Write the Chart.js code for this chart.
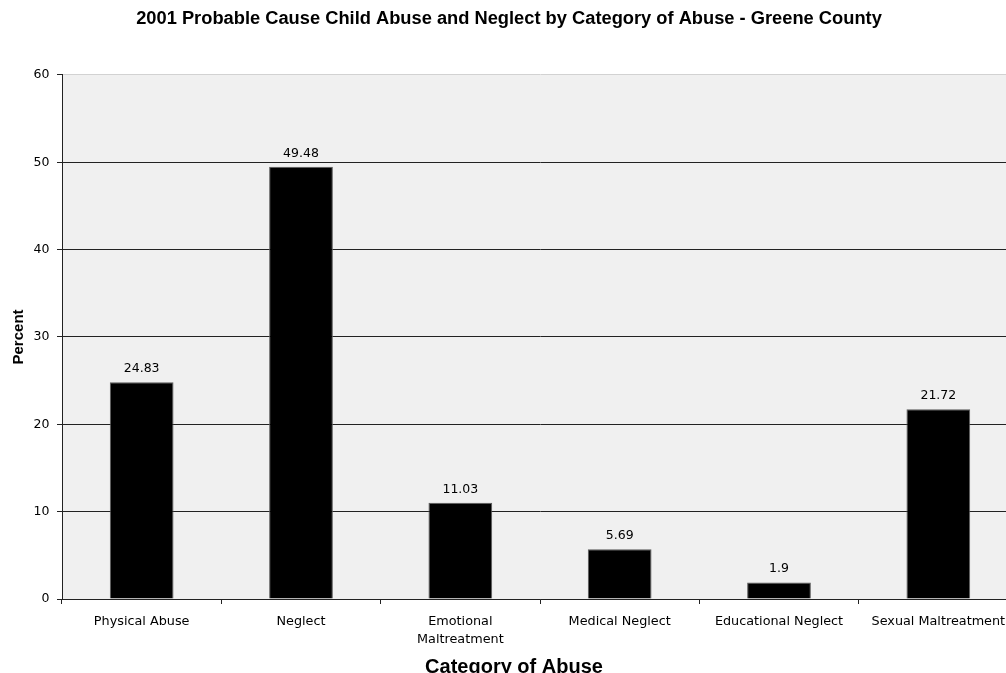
<!DOCTYPE html>
<html>
<head>
<meta charset="utf-8">
<script src="https://cdn.jsdelivr.net/npm/chart.js@4"></script>
<style>
  html, body { margin: 0; padding: 0; background: #fff; overflow: hidden; }
  #wrap { width: 1018px; height: 673px; }
</style>
</head>
<body>
<div id="wrap"><canvas id="myChart" width="1018" height="673"></canvas></div>
<script>
// chart data
let categories = ["Physical Abuse", "Neglect", ["Emotional", "Maltreatment"], "Medical Neglect", "Educational Neglect", "Sexual Maltreatment"];
let percents = [24.83, 49.48, 11.03, 5.69, 1.9, 21.72];
let yMin = 0, yMax = 60, yStep = 10;

let chartTitle = "2001 Probable Cause Child Abuse and Neglect by Category of Abuse - Greene County";
let xTitle = "Category of Abuse";
let yTitle = "Percent";

Chart.defaults.font.family = "'DejaVu Sans', sans-serif";
Chart.defaults.color = "#000";

// grey plot area like the excel chart
let plotBg = {
	id: "plotBg",
	beforeDraw: function(chart) {
		let a = chart.chartArea
		let ctx = chart.ctx
		ctx.save()
		ctx.fillStyle = "#f0f0f0"
		ctx.fillRect(a.left, a.top, a.right - a.left, a.bottom - a.top)
		ctx.restore()
	}
}

// values above the bars
let barValues = {
	id: "barValues",
	afterDatasetsDraw: function(chart) {
		let ctx = chart.ctx
		let meta = chart.getDatasetMeta(0)
		ctx.save()
		ctx.font = "12.5px 'DejaVu Sans'"
		ctx.fillStyle = "#000"
		ctx.textAlign = "center"
		ctx.textBaseline = "alphabetic"
		meta.data.forEach(function(bar, i) {
			ctx.fillText(String(percents[i]), bar.x, bar.y - 10)
		})
		ctx.restore()
	}
}

// x axis title sits a bit left of the plot centre in the original
let xAxisTitle = {
	id: "xAxisTitle",
	afterDraw: function(chart) {
		let ctx = chart.ctx
		ctx.save()
		ctx.font = "bold 20px 'Liberation Sans', Arial, sans-serif"
		ctx.fillStyle = "#000"
		ctx.textAlign = "center"
		ctx.textBaseline = "middle"
		ctx.fillText(xTitle, 514, 667)
		ctx.restore()
	}
}

new Chart("myChart", {
	type: "bar",
	data: {
		labels: categories,
		datasets: [
			{
				data: percents,
				backgroundColor: "#000",
				borderColor: "#5a5a5a",
				borderWidth: 1,
				barPercentage: 0.4,
				categoryPercentage: 1.0,
			},
		],
	},
	options: {
		responsive: false,
		animation: false,
		layout: { padding: 0 },
		plugins: {
			legend: { display: false },
			tooltip: { enabled: false },
			title: {
				display: true,
				text: chartTitle,
				color: "#000",
				font: { family: "'Liberation Sans', Arial, sans-serif", size: 18.3, weight: "bold" },
				padding: { top: 8, bottom: 45 },
			},
		},
		scales: {
			x: {
				afterFit: function(scale) { scale.height = 74 },
				grid: {
					offset: true,
					drawOnChartArea: false,
					tickLength: 5,
					tickColor: "#222",
				},
				border: { color: "#222", width: 1 },
				ticks: {
					maxRotation: 0,
					autoSkip: false,
					padding: 8,
					color: "#000",
					font: { size: 12.8, lineHeight: 1.45 },
				},
			},
			y: {
				min: yMin,
				max: yMax,
				afterFit: function(scale) { scale.width = 62 },
				grid: {
					color: function(c) { return c.tick && c.tick.value === yMax ? "#d2d2d2" : "#222" },
					tickColor: "#222",
					tickLength: 5,
				},
				border: { color: "#222", width: 1 },
				ticks: {
					stepSize: yStep,
					padding: 7.5,
					color: "#000",
					font: { size: 12.5 },
				},
				title: {
					display: true,
					text: yTitle,
					color: "#000",
					font: { family: "'Liberation Sans', Arial, sans-serif", size: 15, weight: "bold" },
					padding: { top: 10, bottom: 0 },
				},
			},
		},
	},
	plugins: [plotBg, barValues, xAxisTitle],
});
</script>
</body>
</html>
